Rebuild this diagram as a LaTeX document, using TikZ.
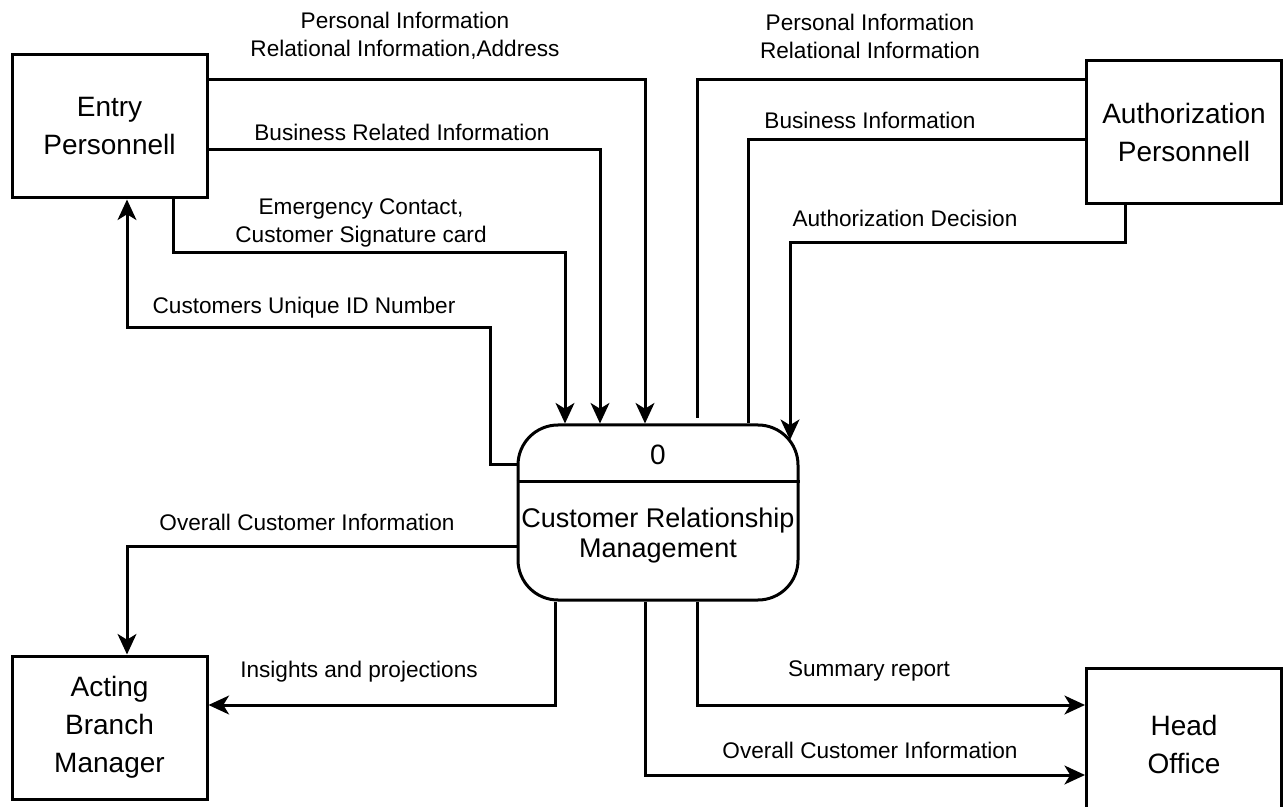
\documentclass[tikz,border=0pt]{standalone}
\usepackage{fontspec}
\setmainfont{Liberation Sans}
\usepackage{tikz}
\usetikzlibrary{
	positioning,    % posizionamento dei nodi
	arrows.meta     % punte di freccia (Stealth)
}

\begin{document}
\begin{tikzpicture}[
	x=0.5pt, y=-0.5pt,
	line width=1.5pt,
	entita/.style={draw, line width=1.5pt, minimum width=97.5pt, minimum height=71.5pt,
		align=center, inner sep=2pt, font=\fontsize{14}{19}\selectfont},
	processo/.style={draw, line width=1.5pt, rounded corners=20pt,
		minimum width=140pt, minimum height=87.5pt},
	flusso/.style={-{Stealth[length=3.6mm, width=3.3mm, inset=1mm]}, line width=1.5pt},
	linea/.style={line width=1.5pt},
	etichetta/.style={align=center, inner sep=0pt, font=\fontsize{11.3}{14}\selectfont}
	]
	\useasboundingbox (0,0) rectangle (1285,807);
	
	% --- Entita' esterne ---
	\node[entita] (entry) at (109.5,126.5) {Entry\\Personnell};
	\node[entita] (auth) at (1184,132.5) {Authorization\\Personnell};
	\node[entita] (acting) at (109.5,727.5) {Acting\\Branch\\Manager};
	\node[entita, minimum height=76pt] (head) at (1184,744) {Head\\Office};
	
	% --- Processo 0 ---
	\node[processo] (crm) at (658,512.5) {};
	\node[font=\fontsize{14}{17}\selectfont] (crmid) at (658,455) {0};
	\node[align=center, font=\fontsize{13.5}{15}\selectfont] (crmname) at (658,536)
		{Customer Relationship\\Management};
	\draw[linea] (crm.west |- 0,482) -- (crm.east |- 0,482);
	
	% --- Flussi da Entry Personnell ---
	\draw[flusso] (entry.east |- 0,80) -| (crm.north -| 645,0);
	\node[etichetta] (l1) at (405,36) {Personal Information\\Relational Information,Address};
	\draw[flusso] (entry.east |- 0,150) -| (crm.north -| 600,0);
	\node[etichetta] (l2) at (402,132) {Business Related Information};
	\draw[flusso] (entry.south -| 173,0) |- (565,253) -- (crm.north -| 565,0);
	\node[etichetta] (l3) at (361,223) {Emergency Contact,\\Customer Signature card};
	\draw[flusso] (crm.west |- 0,465) -- (490,465) |- (127,328) -- (entry.south -| 127,0);
	\node[etichetta] (l4) at (304,308) {Customers Unique ID Number};
	
	% --- Flussi da Authorization Personnell ---
	\coordinate (aperto) at (697,418);
	\draw[linea] (auth.west |- 0,80) -| (aperto);
	\node[etichetta] (l5) at (870,36) {Personal Information\\Relational Information};
	\draw[linea] (auth.west |- 0,140) -| (crm.north -| 748,0);
	\node[etichetta] (l6) at (870,120) {Business Information};
	\coordinate (angolo) at (790,440);
	\draw[flusso] (auth.south -| 1125,0) |- (790,243) -- (angolo);
	\node[etichetta] (l7) at (905,218) {Authorization Decision};
	
	% --- Flussi in uscita ---
	\draw[flusso] (crm.west |- 0,546) -| (acting.north -| 127,0);
	\node[etichetta] (l8) at (307,522) {Overall Customer Information};
	\draw[flusso] (crm.south -| 555,0) |- (acting.east |- 0,705);
	\node[etichetta] (l9) at (359,672) {Insights and projections};
	\draw[flusso] (crm.south -| 697,0) |- (head.west |- 0,705);
	\node[etichetta] (l10) at (869,671) {Summary report};
	\draw[flusso] (crm.south -| 645,0) |- (head.west |- 0,775);
	\node[etichetta] (l11) at (870,750) {Overall Customer Information};
	
\end{tikzpicture}
\end{document}
